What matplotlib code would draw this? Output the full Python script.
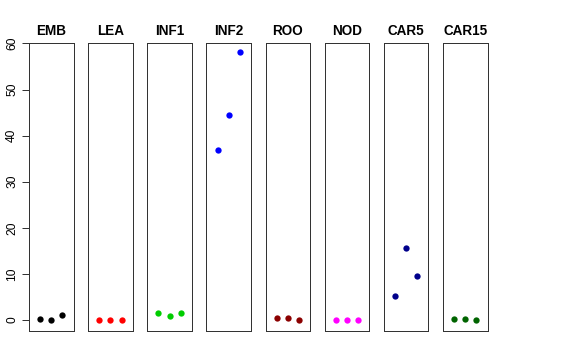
import matplotlib
matplotlib.use("Agg")
import matplotlib.pyplot as plt

categories = ["EMB", "LEA", "INF1", "INF2", "ROO", "NOD", "CAR5", "CAR15"]
colors = ["black", "red", "#00CD00", "blue", "#8B0000", "magenta", "#00008B", "#006400"]
values = {
    "EMB":   [0.2, 0.0, 1.0],
    "LEA":   [0.0, 0.0, 0.0],
    "INF1":  [1.45, 0.9, 1.55],
    "INF2":  [36.9, 44.4, 58.1],
    "ROO":   [0.45, 0.5, 0.0],
    "NOD":   [0.0, 0.0, 0.0],
    "CAR5":  [5.1, 15.6, 9.5],
    "CAR15": [0.2, 0.2, 0.0],
}
yticks = [0, 10, 20, 30, 40, 50, 60]

plt.rcParams['font.family'] = ['Liberation Sans', 'DejaVu Sans']

W, H = 576, 360
fig = plt.figure(figsize=(W / 72, H / 72), dpi=72)

ymin, ymax = -2.4, 60.1
for i, cat in enumerate(categories):
    left = 29 + 59.15 * i
    ax = fig.add_axes([left / W, 1 - 331 / H, 44.5 / W, (331 - 43) / H])
    ax.plot([1, 2, 3], values[cat], 'o', color=colors[i], markersize=6.3, markeredgewidth=0)
    ax.set_xlim(0, 4)
    ax.set_ylim(ymin, ymax)
    ax.set_xticks([])
    for s in ax.spines.values():
        s.set_color('#333333')
        s.set_linewidth(1.0)
    ax.set_title(cat, fontsize=13.5, fontweight='bold', pad=8)
    if i == 0:
        ax.set_yticks(yticks)
        ax.tick_params(axis='y', length=7, width=1, color='#333333', pad=4,
                       labelsize=12, labelrotation=90)
        for lab in ax.get_yticklabels():
            lab.set_verticalalignment('center')
    else:
        ax.set_yticks([])

fig.savefig("out.png", dpi=72)
